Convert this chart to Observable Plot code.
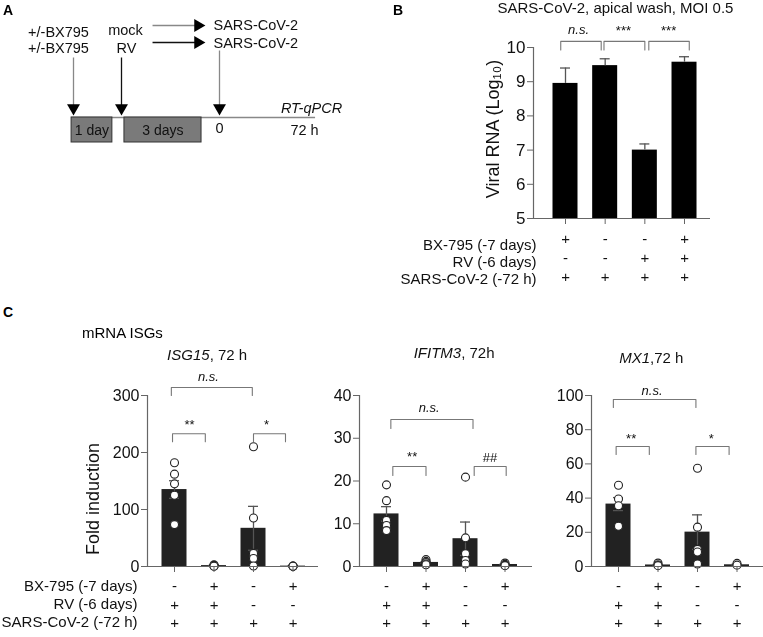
<!DOCTYPE html>
<html><head><meta charset="utf-8">
<script src="https://cdn.jsdelivr.net/npm/d3@7"></script>
<script src="https://cdn.jsdelivr.net/npm/@observablehq/plot@0.6"></script>
<style>
body{margin:0;background:#fff;font-family:"Liberation Sans",Arial,sans-serif;}
#fig{position:relative;width:763px;height:637px;overflow:hidden;background:#fff;}
#fig svg{position:absolute;transform:translateZ(0);}
.pl{position:absolute;font-weight:bold;font-size:14px;line-height:1;}
.sub{position:absolute;font-size:15px;line-height:1;}
</style></head><body><div id="fig"></div>
<script>
// ---------------- data ----------------
// Panel A (schematic timeline, in days)
const timelineDays = [-7, -6, 0, 3];
const boxes = [{label: "1 day", start: -7.04, end: -6.19}, {label: "3 days", start: -5.82, end: -1.1}];
const events = [
  {day: -7, lines: ["+/-BX795", "+/-BX795"], color: "#888"},
  {day: -6, lines: ["mock", "RV"], color: "#111"},
  {day: 0, lines: ["SARS-CoV-2", "SARS-CoV-2"], color: "#888"}
];
const timeLabels = [{day: 0, text: "0"}, {day: 3, text: "72 h"}];

// Panel B
const conditionLabels = ["BX-795 (-7 days)", "RV (-6 days)", "SARS-CoV-2 (-72 h)"];
const bxB = ["+", "-", "-", "+"];
const rvB = ["-", "-", "+", "+"];
const sarsB = ["+", "+", "+", "+"];
const viralMean = [8.95, 9.47, 7.0, 9.57];
const viralSem = [0.45, 0.2, 0.18, 0.16];
const viralTicks = [5, 6, 7, 8, 9, 10];
const sigB = [
  {a: -0.12, b: 0.9, top: 10.18, leg: 9.93, label: "n.s.", lx: 0.33, ly: 10.53, italic: true},
  {a: 0.97, b: 2.0, top: 10.18, leg: 9.93, label: "***", lx: 1.46, ly: 10.48, italic: false},
  {a: 2.1, b: 3.12, top: 10.18, leg: 9.93, label: "***", lx: 2.6, ly: 10.48, italic: false}
];

// Panel C
const bxC = ["-", "+", "-", "+"];
const rvC = ["+", "+", "-", "-"];
const sarsC = ["+", "+", "+", "+"];
const isg15Mean = [135, 1.6, 67, 0.7];
const isg15Sem = [15.5, 0.4, 38.5, 0.2];
const isg15Points = [[182, 162, 145, 125, 73.5], [3, 2, 1.5, 1, 0.5], [210, 85, 23, 14, 1], [1, 0.7, 0.5, 0.4]];
const isg15Ticks = [0, 100, 200, 300];
const ifitm3Mean = [12.3, 0.95, 6.5, 0.47];
const ifitm3Sem = [1.7, 0.2, 3.9, 0.1];
const ifitm3Points = [[19.1, 15.4, 10.8, 9.6, 8.4], [1.6, 1.2, 0.9, 0.6, 0.4], [20.9, 6.7, 3.0, 1.4, 0.6], [0.8, 0.5, 0.3, 0.2]];
const ifitm3Ticks = [0, 10, 20, 30, 40];
const mx1Mean = [36.5, 0.9, 20.1, 1.0];
const mx1Sem = [3.8, 0.3, 10.1, 0.3];
const mx1Points = [[47.5, 39.5, 35.5, 23.5], [2, 1, 0.5], [57.5, 23, 10, 8.5, 1.5], [1.8, 0.8]];
const mx1Ticks = [0, 20, 40, 60, 80, 100];
const sigISG15 = [
  {a: -0.08, b: 1.97, top: 314, leg: 300, label: "n.s.", lx: 0.86, ly: 333, italic: true},
  {a: -0.05, b: 0.78, top: 233, leg: 219, label: "**", lx: 0.38, ly: 249, italic: false},
  {a: 2.0, b: 2.81, top: 233, leg: 219, label: "*", lx: 2.33, ly: 249, italic: false}
];
const sigIFITM3 = [
  {a: 0.11, b: 2.19, top: 34.4, leg: 32.3, label: "n.s.", lx: 1.08, ly: 37.0, italic: true},
  {a: 0.16, b: 1.0, top: 23.4, leg: 21.3, label: "**", lx: 0.65, ly: 25.6, italic: false},
  {a: 2.22, b: 3.03, top: 23.4, leg: 21.3, label: "##", lx: 2.62, ly: 25.4, italic: false}
];
const sigMX1 = [
  {a: -0.13, b: 1.96, top: 97.7, leg: 93, label: "n.s.", lx: 0.85, ly: 103, italic: true},
  {a: -0.06, b: 0.78, top: 70.2, leg: 65.5, label: "**", lx: 0.32, ly: 74.5, italic: false},
  {a: 1.96, b: 2.8, top: 70.2, leg: 65.5, label: "*", lx: 2.35, ly: 74.5, italic: false}
];

// ---------------- drawing ----------------
const FONT = '"Liberation Sans", Arial, sans-serif';
const INK = "#111";
const fig = document.getElementById("fig");
function place(svg, left, top) {
  svg.style.left = left + "px";
  svg.style.top = top + "px";
  fig.appendChild(svg);
}
const baseStyle = {background: "transparent", overflow: "visible", fontFamily: FONT, color: INK};

// Panel A
{
  const t = {fontSize: 14.5, fill: INK, lineAnchor: "middle"};
  const svg = Plot.plot({
    width: 380, height: 180, margin: 0,
    style: baseStyle,
    x: {type: "linear", domain: timelineDays, range: [73, 121, 219, 304], axis: null},
    y: {type: "identity", axis: null},
    marks: [
      Plot.ruleY([117], {x1: -7.04, x2: 3.39, stroke: "#888", strokeWidth: 1.5}),
      Plot.rect(boxes, {x1: "start", x2: "end", y1: 117, y2: 142, fill: "#7a7a7a", stroke: "#333", strokeWidth: 1}),
      Plot.text(boxes, {x: d => (d.start + d.end) / 2, y: 130, text: "label", ...t, fontSize: 14}),
      Plot.link(events, {x1: "day", x2: "day", y1: d => d.day === 0 ? 50 : 57, y2: 108, stroke: "color", strokeWidth: 1.3}),
      Plot.dot(events, {x: "day", y: 115, dy: -7.5, symbol: "triangle", rotate: 180, r: 4.8, fill: "#000", stroke: "none"}),
      Plot.text(events.filter(d => d.day === -7), {x: "day", y: 32, dx: -15, text: d => d.lines[0], ...t}),
      Plot.text(events.filter(d => d.day === -7), {x: "day", y: 48, dx: -15, text: d => d.lines[1], ...t}),
      Plot.text(events.filter(d => d.day === -6), {x: "day", y: 30, dx: 4, text: d => d.lines[0], ...t}),
      Plot.text(events.filter(d => d.day === -6), {x: "day", y: 48, dx: 5, text: d => d.lines[1], ...t}),
      Plot.text(events.filter(d => d.day === 0), {x: "day", y: 25, dx: -6, textAnchor: "start", text: d => d.lines[0], ...t}),
      Plot.text(events.filter(d => d.day === 0), {x: "day", y: 43, dx: -6, textAnchor: "start", text: d => d.lines[1], ...t}),
      Plot.link([{y: 25, c: "#888"}, {y: 42, c: "#111"}], {x1: -4.1, x2: -1.5, y1: "y", y2: "y", stroke: "c", strokeWidth: 1.3}),
      Plot.dot([{y: 25}, {y: 42}], {x: -0.86, y: "y", dx: -7.5, symbol: "triangle", rotate: 90, r: 4.8, fill: "#000", stroke: "none"}),
      Plot.text(timeLabels, {x: "day", y: d => d.day === 0 ? 128 : 130, text: "text", ...t}),
      Plot.text(["RT-qPCR"], {x: 3, y: 108, dx: 7, text: d => d, fontStyle: "italic", ...t})
    ]
  });
  place(svg, 0, 0);
}

function barPanel(cfg) {
  const n = cfg.means.length;
  const idx = d3.range(n);
  const step = cfg.step;
  const xmin = -cfg.offset / step;
  const xmax = (cfg.frameWidth - cfg.offset) / step;
  const hw = 12.5 / step, cw = 5 / step;
  const bars = idx.map(i => ({i, mean: cfg.means[i], lo: cfg.means[i] - cfg.sems[i], hi: cfg.means[i] + cfg.sems[i]}));
  const y0 = cfg.yDomain[0];
  const marks = [
    Plot.rectY(bars, {x1: d => d.i - hw, x2: d => d.i + hw, y1: y0, y2: "mean", fill: cfg.barFill}),
    Plot.ruleX(bars, {x: "i", y1: cfg.lower ? "lo" : "mean", y2: "hi", stroke: "#555", strokeWidth: 1.3}),
    Plot.ruleY(bars, {y: "hi", x1: d => d.i - cw, x2: d => d.i + cw, stroke: "#555", strokeWidth: 1.3})
  ];
  if (cfg.lower) marks.push(Plot.ruleY(bars, {y: "lo", x1: d => d.i - cw, x2: d => d.i + cw, stroke: "#555", strokeWidth: 1.3}));
  if (cfg.points) {
    const pts = cfg.points.flatMap((arr, i) => arr.map(v => ({i, v})));
    marks.push(Plot.dot(pts, {x: "i", y: "v", r: 4, fill: "white", stroke: "#222", strokeWidth: 1.1}));
  }
  // axes
  marks.push(
    Plot.ruleX([xmin], {stroke: "#666", strokeWidth: 1.2}),
    Plot.ruleY([y0], {stroke: "#666", strokeWidth: 1.2}),
    Plot.axisY(cfg.yTicks, {tickSize: 6, tickPadding: 2, fontSize: cfg.tickFont, stroke: "#666", fill: INK, label: null}),
    Plot.axisX(idx, {tickSize: 6, stroke: "#666", tickFormat: () => "", label: null})
  );
  // significance brackets
  const bpts = cfg.sig.flatMap((b, k) => [
    {k, x: b.a, y: b.leg}, {k, x: b.a, y: b.top}, {k, x: b.b, y: b.top}, {k, x: b.b, y: b.leg}
  ]);
  const lt = {fontSize: 13, fill: INK, lineAnchor: "middle"};
  marks.push(
    Plot.line(bpts, {x: "x", y: "y", z: "k", stroke: "#777", strokeWidth: 1.1, curve: "linear"}),
    Plot.text(cfg.sig.filter(d => d.italic), {x: "lx", y: "ly", text: "label", fontStyle: "italic", ...lt}),
    Plot.text(cfg.sig.filter(d => !d.italic), {x: "lx", y: "ly", text: "label", ...lt})
  );
  // condition rows
  const rt = {fontSize: 15, fill: INK, lineAnchor: "middle"};
  cfg.rows.forEach((row, r) => {
    marks.push(Plot.text(idx, {x: d => d, text: d => row[d], frameAnchor: "bottom", dy: cfg.rowDy[r], textAnchor: "middle", ...rt}));
  });
  if (cfg.rowLabels) {
    cfg.rowLabels.forEach((lab, r) => {
      marks.push(Plot.text([lab], {text: d => d, frameAnchor: "bottom-left", dx: cfg.rowLabelDx, dy: cfg.labelDy[r], textAnchor: "end", ...rt}));
    });
  }
  // titles
  const tt = {fontSize: 15, fill: INK, lineAnchor: "middle", frameAnchor: "top", dy: cfg.titleDy};
  if (cfg.titleItalic) {
    marks.push(
      Plot.text([cfg.titleItalic], {x: cfg.titleX, text: d => d, textAnchor: "end", fontStyle: "italic", ...tt}),
      Plot.text([cfg.titleRest], {x: cfg.titleX, text: d => d, textAnchor: "start", ...tt})
    );
  } else if (cfg.title) {
    marks.push(Plot.text([cfg.title], {x: cfg.titleX, text: d => d, textAnchor: "middle", ...tt}));
  }
  if (cfg.ylabel) {
    marks.push(Plot.text([cfg.ylabel], {frameAnchor: "left", dx: cfg.ylabelDx, dy: cfg.ylabelDy, text: d => d, rotate: -90,
      textAnchor: "middle", lineAnchor: "middle", fontSize: 18, fill: INK}));
  }
  const svg = Plot.plot({
    width: cfg.width, height: cfg.height,
    marginLeft: cfg.marginLeft, marginRight: cfg.width - cfg.marginLeft - cfg.frameWidth,
    marginTop: cfg.marginTop, marginBottom: cfg.height - cfg.marginTop - cfg.frameHeight,
    style: baseStyle,
    x: {type: "linear", domain: [xmin, xmax], axis: null},
    y: {type: "linear", domain: cfg.yDomain, axis: null},
    marks
  });
  place(svg, cfg.left, cfg.top);
}

// Panel B
barPanel({
  left: 380, top: 0, width: 383, height: 300,
  marginLeft: 153, marginTop: 47, frameWidth: 177, frameHeight: 171,
  step: 39.67, offset: 32,
  means: viralMean, sems: viralSem, lower: false, barFill: "#000",
  yDomain: [5, 10], yTicks: viralTicks, tickFont: 17,
  sig: sigB,
  rows: [bxB, rvB, sarsB], rowDy: [21, 40, 59],
  rowLabels: conditionLabels, rowLabelDx: 3, labelDy: [27, 44, 61],
  title: "SARS-CoV-2, apical wash, MOI 0.5", titleX: 1.26, titleDy: -39,
  ylabel: "Viral RNA (Log\u2081\u2080)", ylabelDx: -40, ylabelDy: -4
});

// Panel C
const cCommon = {top: 340, height: 297, marginTop: 55, frameHeight: 171, step: 39.5, offset: 27,
  lower: true, barFill: "#222", tickFont: 16, rows: [bxC, rvC, sarsC], rowDy: [20, 39, 57]};
barPanel(Object.assign({}, cCommon, {
  left: 0, width: 330, marginLeft: 147, frameWidth: 171,
  means: isg15Mean, sems: isg15Sem, points: isg15Points,
  yDomain: [0, 300], yTicks: isg15Ticks, sig: sigISG15,
  rowLabels: conditionLabels, rowLabelDx: -10, labelDy: [20, 38, 56],
  titleItalic: "ISG15", titleRest: ", 72 h", titleX: 0.89, titleDy: -40,
  ylabel: "Fold induction", ylabelDx: -54, ylabelDy: 18
}));
barPanel(Object.assign({}, cCommon, {
  left: 322, width: 213, marginLeft: 37, frameWidth: 173,
  means: ifitm3Mean, sems: ifitm3Sem, points: ifitm3Points,
  yDomain: [0, 40], yTicks: ifitm3Ticks, sig: sigIFITM3,
  titleItalic: "IFITM3", titleRest: ", 72h", titleX: 1.89, titleDy: -42
}));
barPanel(Object.assign({}, cCommon, {
  left: 550, width: 213, marginLeft: 41, frameWidth: 172,
  means: mx1Mean, sems: mx1Sem, points: mx1Points,
  yDomain: [0, 100], yTicks: mx1Ticks, sig: sigMX1,
  titleItalic: "MX1", titleRest: ",72 h", titleX: 0.8, titleDy: -37
}));

// Panel letters and section title
[["A", 3, 3], ["B", 393, 3], ["C", 3, 305]].forEach(([t, x, y]) => {
  const d = document.createElement("div");
  d.className = "pl"; d.textContent = t; d.style.left = x + "px"; d.style.top = y + "px";
  fig.appendChild(d);
});
{
  const d = document.createElement("div");
  d.className = "sub"; d.textContent = "mRNA ISGs"; d.style.left = "82px"; d.style.top = "325px";
  fig.appendChild(d);
}
</script></body></html>
